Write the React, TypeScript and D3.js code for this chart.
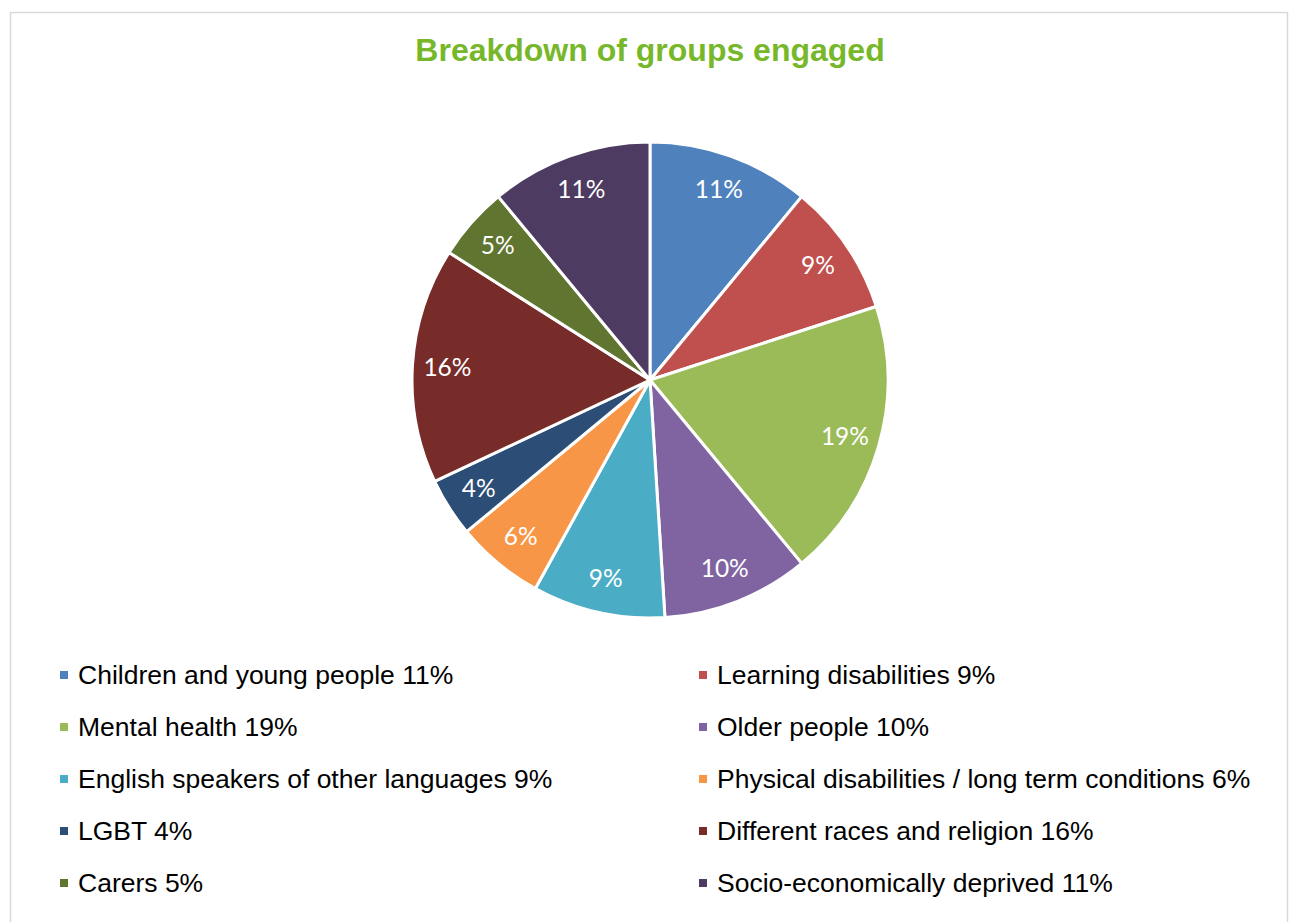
import React from "react";
import * as d3 from "d3";

const categories = [
  "Children and young people",
  "Learning disabilities",
  "Mental health",
  "Older people",
  "English speakers of other languages",
  "Physical disabilities / long term conditions",
  "LGBT",
  "Different races and religion",
  "Carers",
  "Socio-economically deprived",
];
const values = [11, 9, 19, 10, 9, 6, 4, 16, 5, 11];
const colors = [
  "#4F81BD", "#C0504D", "#9BBB59", "#8064A2", "#4BACC6",
  "#F79646", "#2C4D75", "#772C2A", "#5F7530", "#4D3B62",
];
const title = "Breakdown of groups engaged";

export default function App() {
  const W = 1293, H = 922;
  const cx = 650, cy = 380, r = 238, labelR = 203;
  const data = categories.map((c, i) => ({ c, v: values[i], col: colors[i] }));
  const pie = d3.pie<any>().value((d) => d.v).sort(null);
  const arcs = pie(data);
  const arc = d3.arc<any>().innerRadius(0).outerRadius(r);
  const labelArc = d3.arc<any>().innerRadius(labelR).outerRadius(labelR);
  const total = d3.sum(values);
  const fmt = (v: number) => `${Math.round((v / total) * 100)}%`;
  const colX = [64, 703];
  const rowY = d3.range(5).map((i) => 675 + i * 52);
  return (
    <svg width={W} height={H} style={{ position: "absolute", left: 0, top: 0 }}>
      <rect x={0} y={0} width={W} height={H} fill="#fff" />
      <rect x={10.5} y={12.5} width={1277} height={930} fill="#fff" stroke="#D9D9D9" strokeWidth={1.5} />
      <text x={650} y={61} textAnchor="middle" fontFamily="Liberation Sans, Arial, sans-serif" fontWeight="bold" fontSize={32} fill="#77B82A">
        {title}
      </text>
      <g transform={`translate(${cx},${cy})`}>
        {arcs.map((a, i) => (
          <path key={i} d={arc(a) as string} fill={a.data.col} stroke="#fff" strokeWidth={3} strokeLinejoin="round" />
        ))}
        {arcs.map((a, i) => {
          const [x, y] = labelArc.centroid(a);
          return (
            <text key={"l" + i} x={x} y={y} dy="0.35em" textAnchor="middle" fontFamily="Lato, 'Open Sans', sans-serif" fontSize={24.5} fill="#fff">
              {fmt(a.data.v)}
            </text>
          );
        })}
      </g>
      {data.map((d, i) => {
        const x = colX[i % 2];
        const y = rowY[Math.floor(i / 2)];
        return (
          <g key={"lg" + i}>
            <rect x={x - 4} y={y - 4} width={8} height={8} fill={d.col} />
            <text x={x + 14} y={y} dy="0.35em" fontFamily="Liberation Sans, Arial, sans-serif" fontSize={26.5} fill="#000">
              {`${d.c} ${fmt(d.v)}`}
            </text>
          </g>
        );
      })}
    </svg>
  );
}
